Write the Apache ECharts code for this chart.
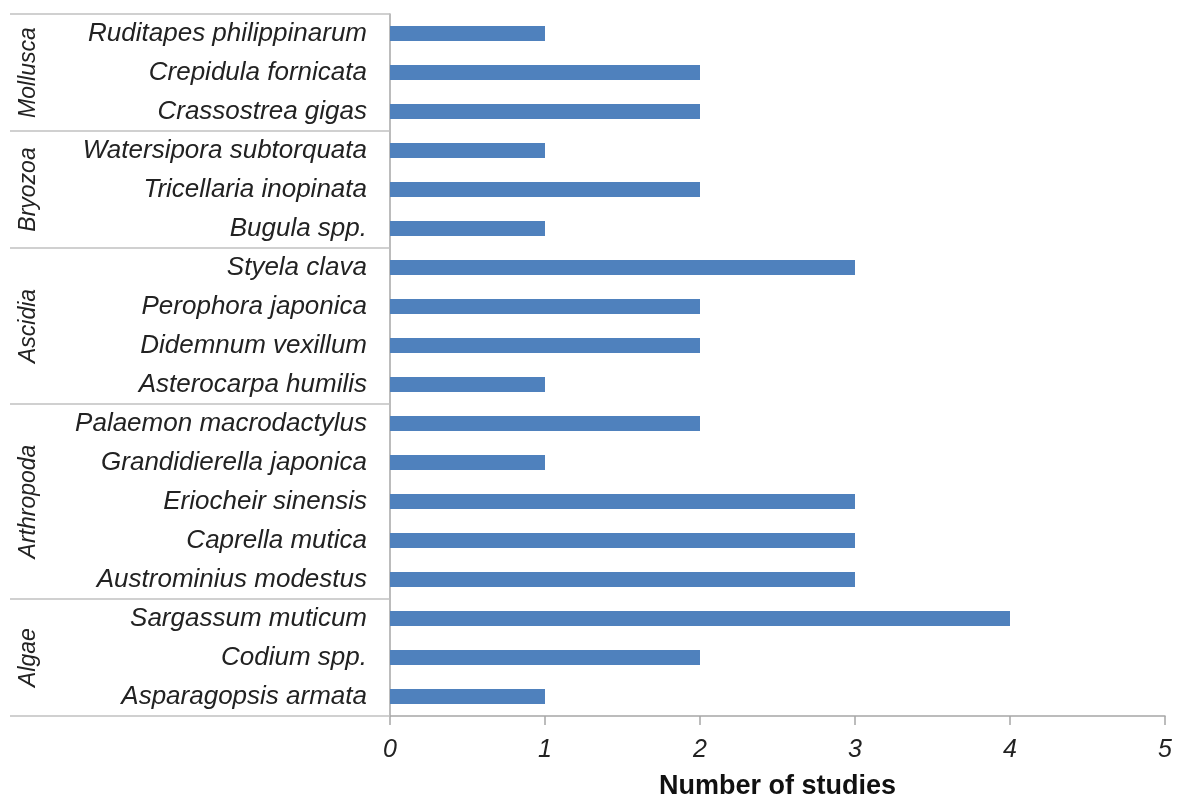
<!DOCTYPE html>
<html>
<head>
<meta charset="utf-8">
<script src="https://cdn.jsdelivr.net/npm/echarts@6/dist/echarts.min.js"></script>
<style>
html,body{margin:0;padding:0;background:#fff;overflow:hidden;}
#chart{width:1177px;height:796px;}
</style>
</head>
<body>
<div id="chart"></div>
<script>
// Categories, bottom to top
const species = [
  'Asparagopsis armata','Codium spp.','Sargassum muticum',
  'Austrominius modestus','Caprella mutica','Eriocheir sinensis','Grandidierella japonica','Palaemon macrodactylus',
  'Asterocarpa humilis','Didemnum vexillum','Perophora japonica','Styela clava',
  'Bugula spp.','Tricellaria inopinata','Watersipora subtorquata',
  'Crassostrea gigas','Crepidula fornicata','Ruditapes philippinarum'
];
const studies = [1,2,4, 3,3,3,1,2, 1,2,2,3, 1,2,1, 2,2,1];
const groups = ['Algae','Arthropoda','Ascidia','Bryozoa','Mollusca'];
const groupSizes = [3,5,4,3,3];
const xTicks = [0,1,2,3,4,5];

const groupData = [];
let start = 0;
groups.forEach((g, i) => {
  groupData.push([0, start, start + groupSizes[i] - 1, g]);
  start += groupSizes[i];
});

const FONT = 'Liberation Sans, Arial, sans-serif';
const chart = echarts.init(document.getElementById('chart'));
chart.setOption({
  animation: false,
  grid: {left: 390, right: 12, top: 14, bottom: 80, containLabel: false, outerBoundsMode: 'none'},
  xAxis: {
    type: 'value',
    min: xTicks[0], max: xTicks[xTicks.length - 1], interval: 1,
    splitLine: {show: false},
    axisLine: {show: true, lineStyle: {color: '#a6a6a6', width: 1.5}},
    axisTick: {show: true, length: 9, lineStyle: {color: '#a6a6a6', width: 1.5}},
    axisLabel: {fontFamily: FONT, fontStyle: 'italic', fontSize: 25, color: '#222', margin: 22},
    name: 'Number of studies',
    nameLocation: 'middle',
    nameGap: 57,
    nameTextStyle: {fontFamily: FONT, fontWeight: 'bold', fontSize: 27, color: '#111'}
  },
  yAxis: {
    type: 'category',
    data: species,
    axisLine: {show: true, lineStyle: {color: '#a6a6a6', width: 1.5}},
    axisTick: {show: false},
    axisLabel: {fontFamily: FONT, fontStyle: 'italic', fontSize: 26, color: '#222', margin: 23}
  },
  series: [
    {
      type: 'bar',
      data: studies,
      barWidth: 15,
      itemStyle: {color: '#4f81bd'},
      z: 3
    },
    {
      type: 'custom',
      data: groupData,
      encode: {x: 0, y: 1},
      clip: false,
      silent: true,
      z: 1,
      renderItem: function (params, api) {
        const s = api.value(1), e = api.value(2);
        const band = api.size([0, 1])[1];
        const pb = api.coord([0, s]);
        const pt = api.coord([0, e]);
        const x0 = pb[0];
        const xl = x0 - 380;
        const yBottom = pb[1] + band / 2;
        const yTop = pt[1] - band / 2;
        const lineStyle = {stroke: '#c0c0c0', lineWidth: 1.5};
        const children = [
          {type: 'line', shape: {x1: xl, y1: yTop, x2: x0, y2: yTop}, style: lineStyle}
        ];
        if (s === 0) {
          children.push({type: 'line', shape: {x1: xl, y1: yBottom, x2: x0, y2: yBottom}, style: lineStyle});
        }
        children.push({
          type: 'text',
          x: xl + 19,
          y: (yTop + yBottom) / 2,
          rotation: Math.PI / 2,
          style: {
            text: api.value(3),
            fontFamily: FONT, fontStyle: 'italic', fontSize: 23,
            fill: '#222', align: 'center', verticalAlign: 'middle'
          }
        });
        return {type: 'group', children: children};
      }
    }
  ]
});
</script>
</body>
</html>
